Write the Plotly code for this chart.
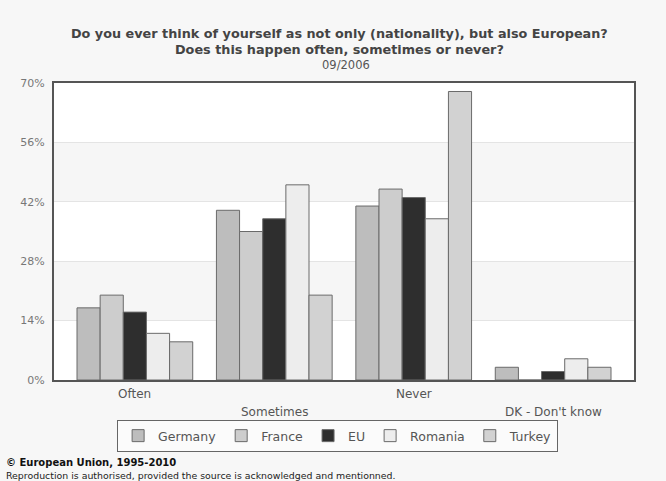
import plotly.graph_objects as go

categories = ["Often", "Sometimes", "Never", "DK - Don't know"]
series_names = ["Germany", "France", "EU", "Romania", "Turkey"]
germany = [17, 40, 41, 3]
france = [20, 35, 45, 0]
eu = [16, 38, 43, 2]
romania = [11, 46, 38, 5]
turkey = [9, 20, 68, 3]
series_values = [germany, france, eu, romania, turkey]
colors = ["#bdbdbd", "#cdcdcd", "#2e2e2e", "#ededed", "#d2d2d2"]
y_ticks = [0, 14, 28, 42, 56, 70]

fig = go.Figure()
for name, vals, col in zip(series_names, series_values, colors):
    fig.add_trace(go.Bar(
        x=categories, y=vals, name=name,
        marker=dict(color=col, line=dict(color="#6a6a6a", width=1)),
    ))

# alternating background bands
shapes = []
for i in range(len(y_ticks) - 1):
    if i % 2 == 1:
        shapes.append(dict(type="rect", xref="paper", yref="y", x0=0, x1=1,
                           y0=y_ticks[i], y1=y_ticks[i + 1],
                           fillcolor="#f6f6f6", line=dict(width=0), layer="below"))

annotations = []
for i, c in enumerate(categories):
    annotations.append(dict(
        x=c, xref="x", y=0, yref="paper", yanchor="top",
        yshift=-5 if i % 2 == 0 else -23,
        text=c, showarrow=False,
        font=dict(family="DejaVu Sans", size=12, color="#555555"),
    ))

title_font = dict(family="DejaVu Sans", size=12.8, color="#444444")
annotations += [
    dict(x=0.493, xref="paper", y=(380 - 34) / 297, yref="paper", yanchor="middle",
         text="<b>Do you ever think of yourself as not only (nationality), but also European?</b>",
         showarrow=False, font=title_font),
    dict(x=0.493, xref="paper", y=(380 - 49) / 297, yref="paper", yanchor="middle",
         text="<b>Does this happen often, sometimes or never?</b>",
         showarrow=False, font=title_font),
    dict(x=0.503, xref="paper", y=(380 - 65) / 297, yref="paper", yanchor="middle",
         text="09/2006", showarrow=False,
         font=dict(family="DejaVu Sans", size=11.5, color="#555555")),
    dict(x=(4 - 54) / 580, xref="paper", xanchor="left", y=(380 - 462) / 297, yref="paper",
         yanchor="middle", text="<b>© European Union, 1995-2010</b>", showarrow=False,
         font=dict(family="DejaVu Sans", size=10, color="#111111")),
    dict(x=(4 - 54) / 580, xref="paper", xanchor="left", y=(380 - 475) / 297, yref="paper",
         yanchor="middle",
         text="Reproduction is authorised, provided the source is acknowledged and mentionned.",
         showarrow=False, font=dict(family="DejaVu Sans", size=9.4, color="#222222")),
]

fig.update_layout(
    width=666, height=481,
    margin=dict(l=54, r=32, t=83, b=101),
    paper_bgcolor="#f7f7f7",
    plot_bgcolor="#ffffff",
    barmode="group",
    bargap=0.17,
    bargroupgap=0,
    showlegend=True,
    legend=dict(orientation="h", x=0.489, xanchor="center", y=-40 / 297, yanchor="top",
                bgcolor="#fbfbfb", bordercolor="#666666", borderwidth=1,
                font=dict(family="DejaVu Sans", size=12.5, color="#555555"),
                itemwidth=30, tracegroupgap=0),
    shapes=shapes,
    annotations=annotations,
)
fig.update_xaxes(range=[-0.58, 3.58], showticklabels=False, showgrid=False,
                 showline=True, linecolor="#555555", linewidth=2, mirror=True,
                 ticks="", zeroline=False)
fig.update_yaxes(range=[0, 70], tickvals=y_ticks, ticktext=[f"{v}%" for v in y_ticks],
                 showgrid=True, gridcolor="#e4e4e4", gridwidth=1,
                 showline=True, linecolor="#555555", linewidth=2, mirror=True,
                 zeroline=False, ticks="", ticklabelstandoff=5,
                 tickfont=dict(family="DejaVu Sans", size=11, color="#777777"))

fig.write_html("out.html")
